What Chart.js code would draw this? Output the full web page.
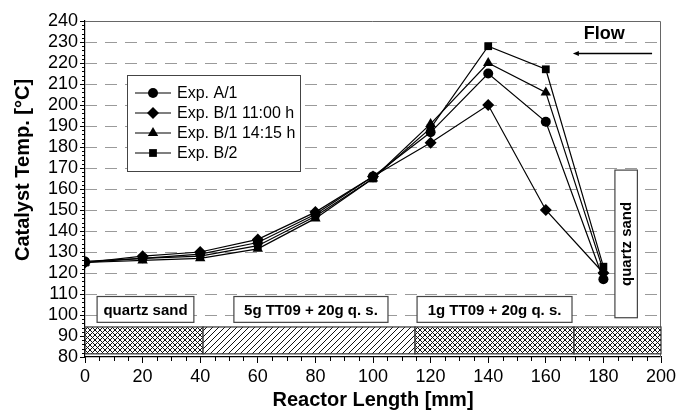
<!DOCTYPE html>
<html>
<head>
<meta charset="utf-8">
<script src="https://cdn.jsdelivr.net/npm/chart.js@4"></script>
<style>
  html, body { margin: 0; padding: 0; background: #fff; }
  #wrap { width: 677px; height: 412px; }
</style>
</head>
<body>
<div id="wrap"><canvas id="tempChart" width="677" height="412"></canvas></div>
<script>
// reactor positions [mm]
const positions = [0, 20, 40, 60, 80, 100, 120, 140, 160, 180];

// catalyst temperatures [°C]
const expA1 = [125.5, 127, 129, 134.5, 148, 166, 187, 215, 192, 117];
const expB1_1100 = [125, 128, 130, 136, 149, 166, 182, 200, 150, 120];
const expB1_1415 = [125, 126, 127, 131.5, 146, 165, 191, 220, 206, 121];
const expB2 = [125, 127, 128, 133, 147, 165, 189, 228, 217, 123];

const seriesNames = ["Exp. A/1", "Exp. B/1 11:00 h", "Exp. B/1 14:15 h", "Exp. B/2"];
const yTicks = [80, 240, 10];
const xTicks = [0, 200, 20];

// packing sections along the reactor [mm]
const bedSections = [
  { from: 0, to: 41, hatch: "cross" },
  { from: 41, to: 114.6, hatch: "diag" },
  { from: 114.6, to: 169.8, hatch: "cross" },
  { from: 169.8, to: 200, hatch: "cross" }
];
const bedLabels = [
  { text: "quartz sand", from: 4.2, to: 37.8 },
  { text: "5g TT09 + 20g q. s.", from: 51.7, to: 105.2 },
  { text: "1g TT09 + 20g q. s.", from: 115.3, to: 169.1 }
];

const FONT = "'Liberation Sans', Arial, sans-serif";

function toPoints(values) {
  return positions.map((x, i) => ({ x: x, y: values[i] }));
}

const styles = [
  { pointStyle: "circle", radius: 5 },
  { pointStyle: "rectRot", radius: 6 },
  { pointStyle: "triangle", radius: 6 },
  { pointStyle: "rect", radius: 5.5 }
];
const allSeries = [expA1, expB1_1100, expB1_1415, expB2];

const datasets = allSeries.map((vals, i) => ({
  label: seriesNames[i],
  data: toPoints(vals),
  borderColor: "#000",
  backgroundColor: "#000",
  borderWidth: 1.2,
  pointStyle: styles[i].pointStyle,
  pointRadius: styles[i].radius,
  pointBorderWidth: 0,
  tension: 0,
  fill: false
}));

function makePattern(kind) {
  const c = document.createElement("canvas");
  const s = kind === "cross" ? 5 : 6;
  c.width = s; c.height = s;
  const g = c.getContext("2d");
  g.fillStyle = "#fff";
  g.fillRect(0, 0, s, s);
  g.strokeStyle = "#111";
  g.lineWidth = 1;
  g.beginPath();
  g.moveTo(-1, s + 1); g.lineTo(s + 1, -1);
  g.moveTo(-1, 1); g.lineTo(1, -1);
  g.moveTo(s - 1, s + 1); g.lineTo(s + 1, s - 1);
  if (kind === "cross") {
    g.moveTo(-1, -1); g.lineTo(s + 1, s + 1);
    g.moveTo(s - 1, -1); g.lineTo(s + 1, 1);
    g.moveTo(-1, s - 1); g.lineTo(1, s + 1);
  }
  g.stroke();
  return g.createPattern(c, "repeat");
}

function drawMarker(ctx, style, x, y, r) {
  ctx.beginPath();
  if (style === "circle") {
    ctx.arc(x, y, r, 0, Math.PI * 2);
  } else if (style === "rectRot") {
    ctx.moveTo(x, y - r); ctx.lineTo(x + r, y); ctx.lineTo(x, y + r); ctx.lineTo(x - r, y);
  } else if (style === "triangle") {
    ctx.moveTo(x, y - r); ctx.lineTo(x + r * 0.87, y + r * 0.5); ctx.lineTo(x - r * 0.87, y + r * 0.5);
  } else {
    const h = r * Math.SQRT1_2;
    ctx.rect(x - h, y - h, 2 * h, 2 * h);
  }
  ctx.closePath();
  ctx.fill();
}

const decorPlugin = {
  id: "decor",
  beforeDatasetsDraw(chart) {
    const { ctx, chartArea: a, scales: { x, y } } = chart;
    ctx.save();
    // dashed grid
    ctx.strokeStyle = "#9a9a9a";
    ctx.lineWidth = 1;
    ctx.setLineDash([12, 8]);
    for (let v = yTicks[0] + 10; v < yTicks[1]; v += yTicks[2]) {
      const py = Math.round(y.getPixelForValue(v)) + 0.5;
      ctx.beginPath(); ctx.moveTo(a.left, py); ctx.lineTo(a.right, py); ctx.stroke();
    }
    ctx.setLineDash([]);
    // frame top/right
    ctx.strokeStyle = "#666";
    ctx.beginPath();
    ctx.moveTo(a.left, a.top + 0.5); ctx.lineTo(a.right - 0.5, a.top + 0.5); ctx.lineTo(a.right - 0.5, a.bottom);
    ctx.stroke();

    // packed bed band
    const yTop = y.getPixelForValue(94.3), yBot = y.getPixelForValue(81.5);
    bedSections.forEach(s => {
      const x0 = x.getPixelForValue(s.from), x1 = x.getPixelForValue(s.to);
      ctx.fillStyle = makePattern(s.hatch);
      ctx.fillRect(x0, yTop, x1 - x0, yBot - yTop);
      ctx.strokeStyle = "#333";
      ctx.lineWidth = 1.2;
      ctx.strokeRect(x0, yTop, x1 - x0, yBot - yTop);
    });

    // section labels
    ctx.font = "bold 15px " + FONT;
    ctx.textAlign = "center";
    ctx.textBaseline = "middle";
    const bTop = y.getPixelForValue(108.8), bBot = y.getPixelForValue(96.5);
    bedLabels.forEach(b => {
      const x0 = x.getPixelForValue(b.from), x1 = x.getPixelForValue(b.to);
      ctx.fillStyle = "#fff";
      ctx.fillRect(x0, bTop, x1 - x0, bBot - bTop);
      ctx.strokeStyle = "#444";
      ctx.lineWidth = 1.2;
      ctx.strokeRect(x0, bTop, x1 - x0, bBot - bTop);
      ctx.fillStyle = "#000";
      ctx.fillText(b.text, (x0 + x1) / 2, (bTop + bBot) / 2 + 1);
    });
    // vertical quartz sand label
    const vx0 = x.getPixelForValue(184), vx1 = x.getPixelForValue(191.8);
    const vy0 = y.getPixelForValue(169), vy1 = y.getPixelForValue(98.7);
    ctx.fillStyle = "#fff";
    ctx.fillRect(vx0, vy0, vx1 - vx0, vy1 - vy0);
    ctx.strokeStyle = "#444";
    ctx.strokeRect(vx0, vy0, vx1 - vx0, vy1 - vy0);
    ctx.translate((vx0 + vx1) / 2 + 1, (vy0 + vy1) / 2);
    ctx.rotate(-Math.PI / 2);
    ctx.fillStyle = "#000";
    ctx.fillText("quartz sand", 0, 0);
    ctx.restore();
  },
  afterDraw(chart) {
    const { ctx, chartArea: a, scales: { x, y } } = chart;
    ctx.save();
    // minor ticks
    ctx.strokeStyle = "#000";
    ctx.lineWidth = 1;
    ctx.beginPath();
    for (let v = 0; v <= 200; v += 5) {
      if (v % 20 === 0) continue;
      const px = Math.round(x.getPixelForValue(v)) + 0.5;
      ctx.moveTo(px, a.bottom); ctx.lineTo(px, a.bottom + 4);
    }
    for (let v = 80; v <= 240; v += 2) {
      if (v % 10 === 0) continue;
      const py = Math.round(y.getPixelForValue(v)) + 0.5;
      ctx.moveTo(a.left - 3, py); ctx.lineTo(a.left, py);
    }
    ctx.stroke();

    // y title
    ctx.font = "bold 20px " + FONT;
    ctx.fillStyle = "#000";
    ctx.textAlign = "center";
    ctx.textBaseline = "middle";
    ctx.save();
    ctx.translate(23, 170);
    ctx.rotate(-Math.PI / 2);
    ctx.fillText("Catalyst Temp. [°C]", 0, 0);
    ctx.restore();

    // legend
    const lx = 127, ly = 75, lw = 173, lh = 96;
    ctx.fillStyle = "#fff";
    ctx.fillRect(lx, ly, lw, lh);
    ctx.strokeStyle = "#444";
    ctx.lineWidth = 1;
    ctx.strokeRect(lx + 0.5, ly + 0.5, lw, lh);
    ctx.font = "16px " + FONT;
    ctx.textAlign = "left";
    chart.data.datasets.forEach((ds, i) => {
      const ry = 93 + i * 20;
      ctx.strokeStyle = "#000";
      ctx.lineWidth = 1.2;
      ctx.beginPath(); ctx.moveTo(135, ry); ctx.lineTo(171, ry); ctx.stroke();
      ctx.fillStyle = "#000";
      drawMarker(ctx, ds.pointStyle, 153, ry, ds.pointRadius);
      ctx.fillText(ds.label, 177, ry + 1);
    });

    // flow arrow
    const fx0 = x.getPixelForValue(169.4), fx1 = x.getPixelForValue(196.9);
    const fy = Math.round(y.getPixelForValue(224.9)) + 0.5;
    ctx.strokeStyle = "#000";
    ctx.lineWidth = 1.3;
    ctx.beginPath(); ctx.moveTo(fx1, fy); ctx.lineTo(fx0 + 4, fy); ctx.stroke();
    ctx.beginPath();
    ctx.moveTo(fx0, fy); ctx.lineTo(fx0 + 6, fy - 2.5); ctx.lineTo(fx0 + 6, fy + 2.5); ctx.closePath();
    ctx.fill();
    ctx.font = "bold 18px " + FONT;
    ctx.textAlign = "center";
    ctx.textBaseline = "alphabetic";
    ctx.fillText("Flow", x.getPixelForValue(180.3), y.getPixelForValue(231.2));
    ctx.restore();
  }
};

new Chart(document.getElementById("tempChart"), {
  type: "line",
  data: { datasets },
  options: {
    responsive: false,
    animation: false,
    layout: { padding: { left: 0, right: 16, top: 21, bottom: 0 } },
    plugins: { legend: { display: false }, tooltip: { enabled: false } },
    scales: {
      x: {
        type: "linear",
        min: xTicks[0],
        max: xTicks[1],
        ticks: { stepSize: xTicks[2], autoSkip: false, color: "#000", font: { family: FONT, size: 18 }, padding: 3, maxRotation: 0 },
        grid: { drawOnChartArea: false, drawTicks: true, tickLength: 6, color: "#000" },
        border: { color: "#000", width: 1.2 },
        title: { display: true, text: "Reactor Length [mm]", color: "#000", font: { family: FONT, size: 20, weight: "bold" }, padding: { top: 0, bottom: 0 } },
        afterFit: s => { s.height = 55; s.paddingRight = 0; s.paddingLeft = 0; }
      },
      y: {
        min: yTicks[0],
        max: yTicks[1],
        ticks: { stepSize: yTicks[2], autoSkip: false, color: "#000", font: { family: FONT, size: 18 }, padding: 2 },
        grid: { drawOnChartArea: false, drawTicks: true, tickLength: 5, color: "#000" },
        border: { color: "#000", width: 1.2 },
        afterFit: s => { s.width = 85; s.paddingTop = 0; s.paddingBottom = 0; }
      }
    }
  },
  plugins: [decorPlugin]
});
</script>
</body>
</html>
